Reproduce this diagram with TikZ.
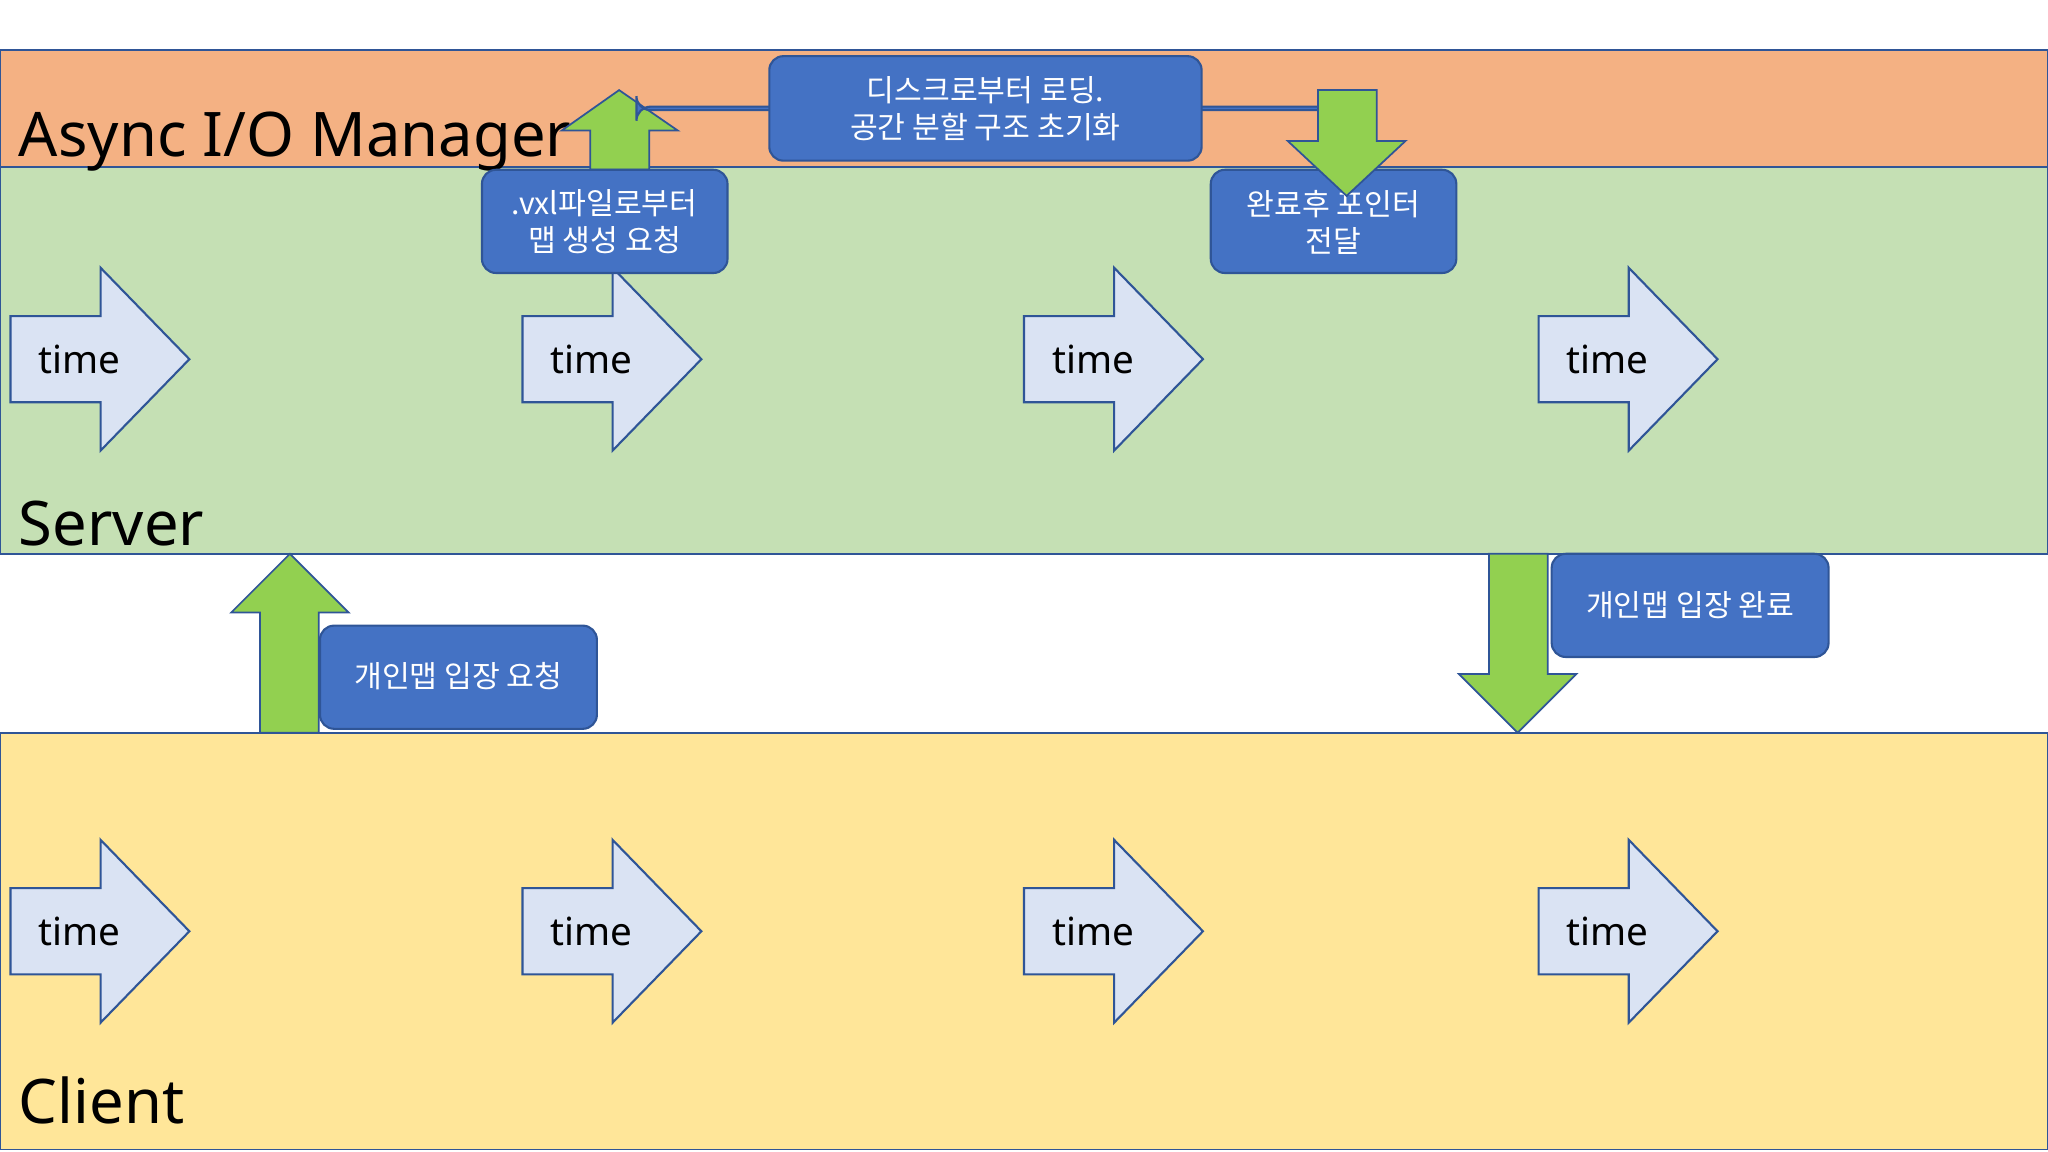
\documentclass[tikz,border=0pt]{standalone}
\usepackage{fontspec}
\setmainfont{Noto Sans}
\newfontfamily\kr{Noto Sans CJK KR}
\usetikzlibrary{positioning}
\definecolor{edge}{HTML}{2F5597}
\definecolor{asyncfill}{HTML}{F4B183}
\definecolor{serverfill}{HTML}{C5E0B4}
\definecolor{clientfill}{HTML}{FFE699}
\definecolor{timefill}{HTML}{DAE3F3}
\definecolor{boxfill}{HTML}{4472C4}
\definecolor{greenfill}{HTML}{92D050}
\tikzset{
  band/.style={draw=edge, line width=0.5pt},
  bandlabel/.style={anchor=base west, inner sep=0pt, font=\fontsize{17.5}{20}\selectfont},
  msg/.style={draw=edge, fill=boxfill, rounded corners=4pt, text=white, align=center,
    font=\kr\fontsize{8.6}{10.5}\selectfont, inner sep=0pt, line width=0.6pt},
  garrow/.style={draw=edge, fill=greenfill, line width=0.5pt},
  pics/timearrow/.style={code={
    \draw[draw=edge, fill=timefill, line width=0.6pt]
      (0,-33) -- (69,-33) -- (69,-70) -- (137,0) -- (69,70) -- (69,33) -- (0,33) -- cycle;
    \node[font=\fontsize{11}{13}\selectfont] (-t) at (53,0) {time};
  }}
}
\begin{document}
\begin{tikzpicture}[x=0.013061cm, y=-0.013061cm]
\useasboundingbox (0,0) rectangle (1568,882);
% bands
\draw[band, fill=asyncfill] (0,38) rectangle (1568,128);
\draw[band, fill=serverfill] (0,128) rectangle (1568,424);
\draw[band, fill=clientfill] (0,561) rectangle (1568,880);
\node[bandlabel] (async) at (14,120) {Async I/O Manager};
\node[bandlabel] (server) at (14,418) {Server};
\node[bandlabel] (client) at (14,860) {Client};
% time arrows
\foreach \x [count=\i] in {8,400,784,1178} {
  \pic (st\i) at (\x,275) {timearrow};
  \pic (ct\i) at (\x,713) {timearrow};
}
% green arrows
\draw[garrow] (452,130) -- (452,100) -- (430,100) -- (474,69) -- (519,100) -- (497,100) -- (497,130) -- cycle;
\draw[garrow] (199,561) -- (199,469) -- (177,469) -- (222,424) -- (267,469) -- (244,469) -- (244,561) -- cycle;
\draw[garrow] (1140,424) -- (1185,424) -- (1185,516) -- (1207,516) -- (1162,561) -- (1117,516) -- (1140,516) -- cycle;
% messages
\node[msg, minimum width=331\pgflinewidth, text width=4cm] (load) at (754.5,83) {};
\node[msg] (loadbox) at (754.5,83) {\rule{0pt}{0pt}};
\draw[msg] (589,43) rectangle (920,123);
\node[text=white, align=center, font=\kr\fontsize{8.6}{10.5}\selectfont] (loadtxt) at (754.5,83) {디스크로부터 로딩.\\공간 분할 구조 초기화};
\draw[msg] (369,130) rectangle (557,209);
\node[text=white, align=center, font=\kr\fontsize{8.6}{10.5}\selectfont] (vxl) at (463,170) {.vxl파일로부터\\맵 생성 요청};
\draw[msg] (927,130) rectangle (1115,209);
\node[text=white, align=center, font=\kr\fontsize{8.6}{10.5}\selectfont] (done) at (1021,170) {완료후 포인터\\전달};
\draw[msg] (245,479) rectangle (457,558);
\node[text=white, font=\kr\fontsize{8.6}{10.5}\selectfont] (enter) at (351,518) {개인맵 입장 요청};
\draw[msg] (1188,424) rectangle (1400,503);
\node[text=white, font=\kr\fontsize{8.6}{10.5}\selectfont] (entered) at (1294,463) {개인맵 입장 완료};
\draw[garrow] (1009,69) -- (1054,69) -- (1054,108) -- (1076,108) -- (1031,150) -- (986,108) -- (1009,108) -- cycle;
\end{tikzpicture}
\end{document}
